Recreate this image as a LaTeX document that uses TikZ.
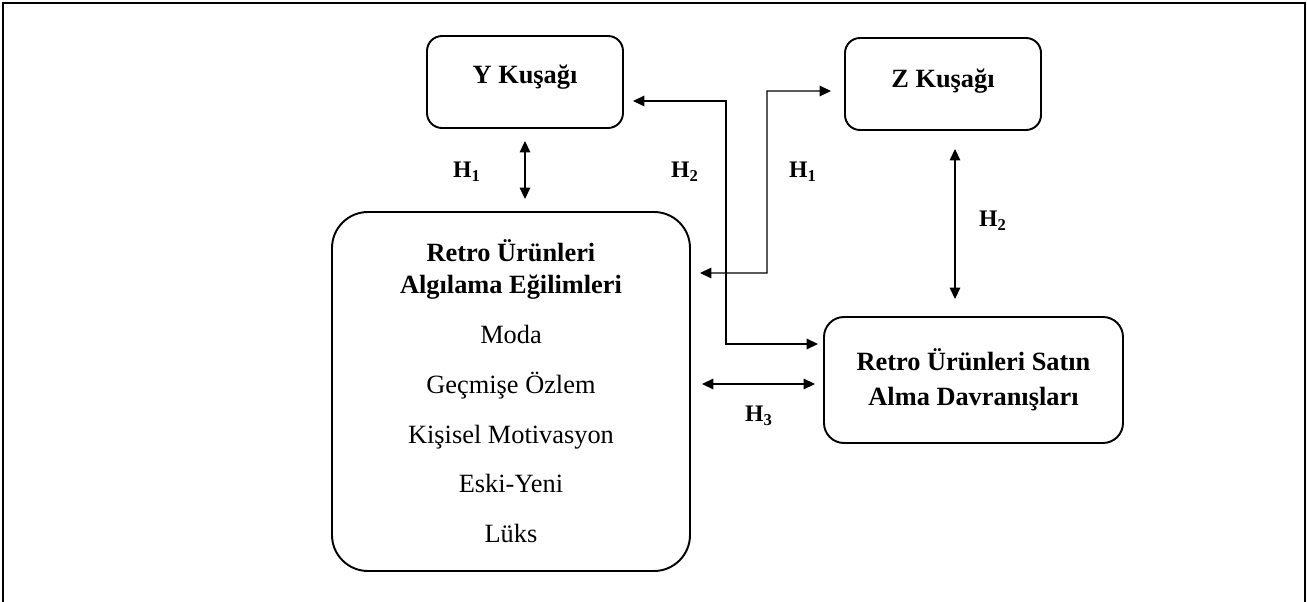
\documentclass[tikz,border=0pt]{standalone}
\usepackage{fontspec}
\setmainfont{Liberation Serif}
\usetikzlibrary{arrows.meta, positioning}

\begin{document}
\begin{tikzpicture}[
    box/.style={rectangle, draw, rounded corners=0.3cm, line width=1.1pt, inner sep=0pt,
        font=\fontsize{15}{18}\selectfont\bfseries},
    bigbox/.style={box, rounded corners=0.72cm, align=center,
        font=\fontsize{15}{18.1}\selectfont},
    conn/.style={{Triangle[length=6.5pt,width=6pt]}-{Triangle[length=6.5pt,width=6pt]}, line width=0.7pt},
    hyp/.style={font=\fontsize{13.5}{15}\selectfont\bfseries},
    frame/.style={line width=1.2pt}
]
    \useasboundingbox (0,0) rectangle (26.14,-12.04);
    % Outer frame
    \draw[frame] (0.06,-12.2) -- (0.06,-0.06) -- (26.1,-0.06) -- (26.1,-12.2);
    % Boxes
    \node[box, minimum width=3.92cm, minimum height=1.84cm, text height=11pt, text depth=9pt] (ykusak) at (10.5,-1.64) {Y Kuşağı};
    \node[box, minimum width=3.92cm, minimum height=1.84cm, text height=11pt, text depth=7pt] (zkusak) at (18.86,-1.68) {Z Kuşağı};
    \node[bigbox, minimum width=7.16cm, minimum height=7.18cm] (retro) at (10.22,-7.83) {%
        \textbf{Retro Ürünleri}\\
        \textbf{Algılama Eğilimleri}\\[10.25pt]
        Moda\\[10.25pt]
        Geçmişe Özlem\\[10.25pt]
        Kişisel Motivasyon\\[10.25pt]
        Eski-Yeni\\[10.25pt]
        Lüks};
    \node[box, rounded corners=0.4cm, align=center, minimum width=5.98cm, minimum height=2.52cm,
        font=\fontsize{15}{19.8}\selectfont\bfseries] (satin) at (19.47,-7.6) {Retro Ürünleri Satın\\ Alma Davranışları};
    % Connections
    \coordinate (h2bend) at (14.52,-2.02);
    \coordinate (h1bend) at (15.34,-1.82);
    \coordinate (h3end) at ([yshift=-0.08cm]satin.west);
    \draw[conn, shorten <=0.24cm, shorten >=0.24cm] (ykusak.south) -- (ykusak.south |- retro.north);
    \draw[conn, shorten <=0.18cm, shorten >=0.1cm] ([yshift=-0.38cm]ykusak.east) -- (h2bend) |- ([yshift=0.72cm]satin.west);
    \draw[conn, shorten <=0.18cm, shorten >=0.26cm] ([yshift=2.37cm]retro.east) -| (h1bend) -- ([yshift=-0.14cm]zkusak.west);
    \draw[conn, shorten <=0.36cm, shorten >=0.34cm] ([xshift=0.24cm]zkusak.south) -- ([xshift=0.24cm]zkusak.south |- satin.north);
    \draw[conn, shorten <=0.22cm, shorten >=0.16cm] (h3end -| retro.east) -- (h3end);
    % Labels
    \node[hyp] (lh1a) at (9.34,-3.44) {H\textsubscript{1}};
    \node[hyp] (lh2a) at (13.7,-3.44) {H\textsubscript{2}};
    \node[hyp] (lh1b) at (16.06,-3.44) {H\textsubscript{1}};
    \node[hyp] (lh2b) at (19.86,-4.42) {H\textsubscript{2}};
    \node[hyp] (lh3) at (15.18,-8.32) {H\textsubscript{3}};
\end{tikzpicture}
\end{document}
